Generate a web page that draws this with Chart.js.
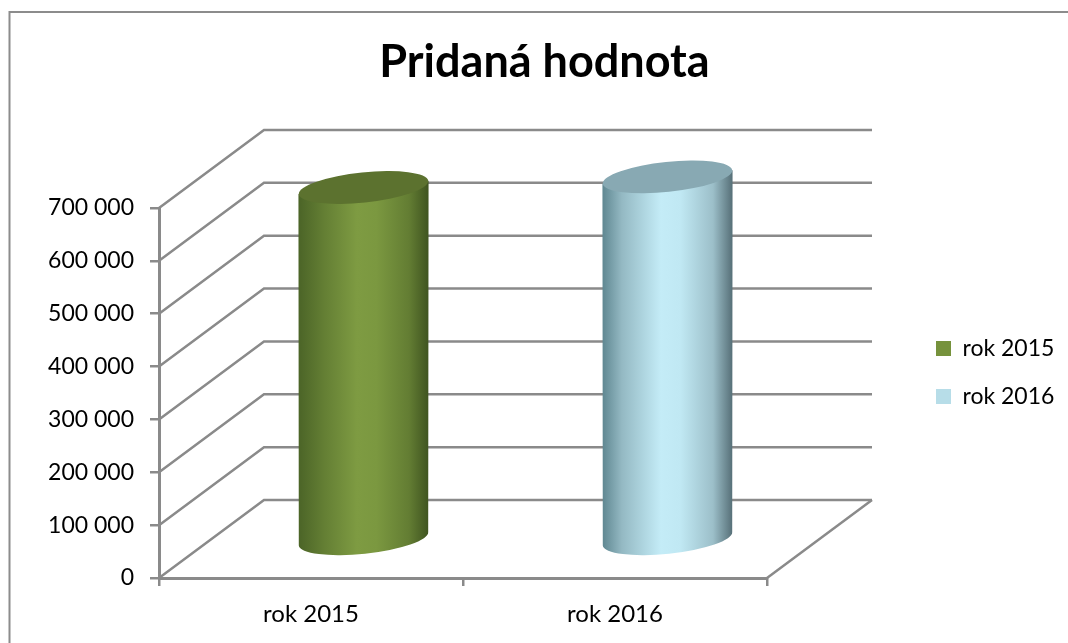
<!DOCTYPE html>
<html>
<head>
<meta charset="utf-8">
<style>
  html, body { margin: 0; padding: 0; background: #fff; }
  #wrap { width: 1068px; height: 643px; }
</style>
<script src="https://cdn.jsdelivr.net/npm/chart.js@4/dist/chart.umd.min.js"></script>
</head>
<body>
<div id="wrap"><canvas id="barChart"></canvas></div>
<script>
var titleText = "Pridaná hodnota";
var categories = ["rok 2015", "rok 2016"];
var values = [665000, 685000];
var yMax = 700000;
var yStep = 100000;

var swatchColors = ["#76923c", "#b7dde8"];
// shading across a cylinder, left to right
var bodyStops = [
    [[0, "#4b6427"], [0.2, "#647f34"], [0.45, "#7e9b42"], [0.6, "#7b9840"], [0.85, "#637d33"], [1, "#3f5420"]],
    [[0, "#5f8791"], [0.15, "#94b9c3"], [0.45, "#c4ecf7"], [0.6, "#c0e8f3"], [0.85, "#9cbfc9"], [1, "#566f77"]]
];
var capColors = ["#5c722f", "#88a9b3"];

var lineColor = "#8a8a8a";
var depthX = 105;   // 3D box depth
var depthY = -78;
var legendWidth = 301;
var legendLeft = 911;

function fmt(v) {
    return String(v).replace(/\B(?=(\d{3})+$)/g, " ");
}

var box3d = {
    id: "box3d",
    beforeInit: function (chart) {
        // reserve room for the 3D depth beside the legend
        var fit = chart.legend.fit;
        chart.legend.fit = function () {
            fit.call(this);
            this.width = legendWidth;
        };
    },
    beforeDraw: function (chart) {
        // outer frame
        var c = chart.ctx;
        c.save();
        c.strokeStyle = "#8c8c8c";
        c.lineWidth = 2;
        c.beginPath();
        c.moveTo(9.5, 643);
        c.lineTo(9.5, 12);
        c.lineTo(1068, 12);
        c.stroke();
        c.restore();
    },
    afterLayout: function (chart) {
        var lg = chart.legend;
        lg.left = legendLeft;
        lg.top += 57;
        lg.bottom += 57;
    },
    beforeDatasetsDraw: function (chart) {
        var c = chart.ctx, x = chart.scales.x, y = chart.scales.y;
        c.save();
        c.strokeStyle = lineColor;
        c.lineWidth = 2.5;
        c.lineJoin = "miter";
        y.ticks.forEach(function (t) {
            var py = y.getPixelForValue(t.value);
            c.beginPath();
            c.moveTo(x.left, py);
            c.lineTo(x.left + depthX, py + depthY);
            c.lineTo(x.right + depthX, py + depthY);
            c.stroke();
        });
        var y0 = y.getPixelForValue(0);
        c.beginPath();
        c.moveTo(x.right, y0);
        c.lineTo(x.right + depthX, y0 + depthY);
        c.stroke();
        c.restore();
    },
    beforeDatasetDraw: function () {
        return false;   // bars are painted as cylinders below
    },
    afterDatasetsDraw: function (chart) {
        var c = chart.ctx;
        chart.getDatasetMeta(0).data.forEach(function (bar, i) {
            var cx = bar.x + depthX / 2;
            var rx = bar.width / 2;
            var ry = 15;
            var rot = -6 * Math.PI / 180;
            var top = bar.y + depthY / 2;
            var bottom = bar.base + depthY / 2 + 1;
            var dy = Math.sin(rot) * rx;

            var g = c.createLinearGradient(cx - rx, 0, cx + rx, 0);
            bodyStops[i].forEach(function (s) { g.addColorStop(s[0], s[1]); });

            c.save();
            c.fillStyle = g;
            c.beginPath();
            c.ellipse(cx, bottom, rx, ry, rot, 0, Math.PI);
            c.lineTo(cx - rx, top - dy);
            c.lineTo(cx + rx, top + dy);
            c.closePath();
            c.fill();

            c.fillStyle = capColors[i];
            c.beginPath();
            c.ellipse(cx, top, rx, ry, rot, 0, Math.PI * 2);
            c.fill();
            c.restore();
        });
    }
};

var barData = {
    labels: categories,
    datasets: [{
        data: values,
        backgroundColor: swatchColors,
        categoryPercentage: 1,
        barPercentage: 0.428
    }]
};

var barOptions = {
    responsive: true,
    maintainAspectRatio: false,
    animation: false,
    layout: { padding: { left: 21, top: 0, right: 0, bottom: 12 } },
    plugins: {
        tooltip: { enabled: false },
        title: {
            display: true,
            text: titleText,
            color: "#000",
            font: { family: "Lato", size: 45, weight: "bold" },
            padding: { top: 35, bottom: 119 }
        },
        legend: {
            position: "right",
            labels: {
                color: "#000",
                font: { family: "Lato", size: 23 },
                boxWidth: 15,
                boxHeight: 15,
                padding: 25,
                generateLabels: function (chart) {
                    return categories.map(function (name, i) {
                        return { text: name, fillStyle: swatchColors[i], strokeStyle: swatchColors[i], lineWidth: 0, index: i };
                    });
                }
            }
        }
    },
    scales: {
        x: {
            afterFit: function (s) { s.height = 53; },
            grid: { drawOnChartArea: false, color: lineColor, tickLength: 8, lineWidth: 2.5 },
            border: { color: lineColor, width: 3 },
            ticks: { color: "#000", font: { family: "Lato", size: 24 }, padding: 14, maxRotation: 0 }
        },
        y: {
            min: 0,
            max: yMax,
            afterFit: function (s) { s.width = 138; },
            grid: { drawOnChartArea: false, color: lineColor, tickLength: 9, lineWidth: 2.5 },
            border: { color: lineColor, width: 3 },
            ticks: {
                stepSize: yStep,
                color: "#000",
                font: { family: "Lato", size: 23 },
                padding: 16,
                callback: function (v) { return fmt(v); }
            }
        }
    }
};

var ctx = document.getElementById("barChart").getContext("2d");
new Chart(ctx, { type: "bar", data: barData, options: barOptions, plugins: [box3d] });
</script>
</body>
</html>
